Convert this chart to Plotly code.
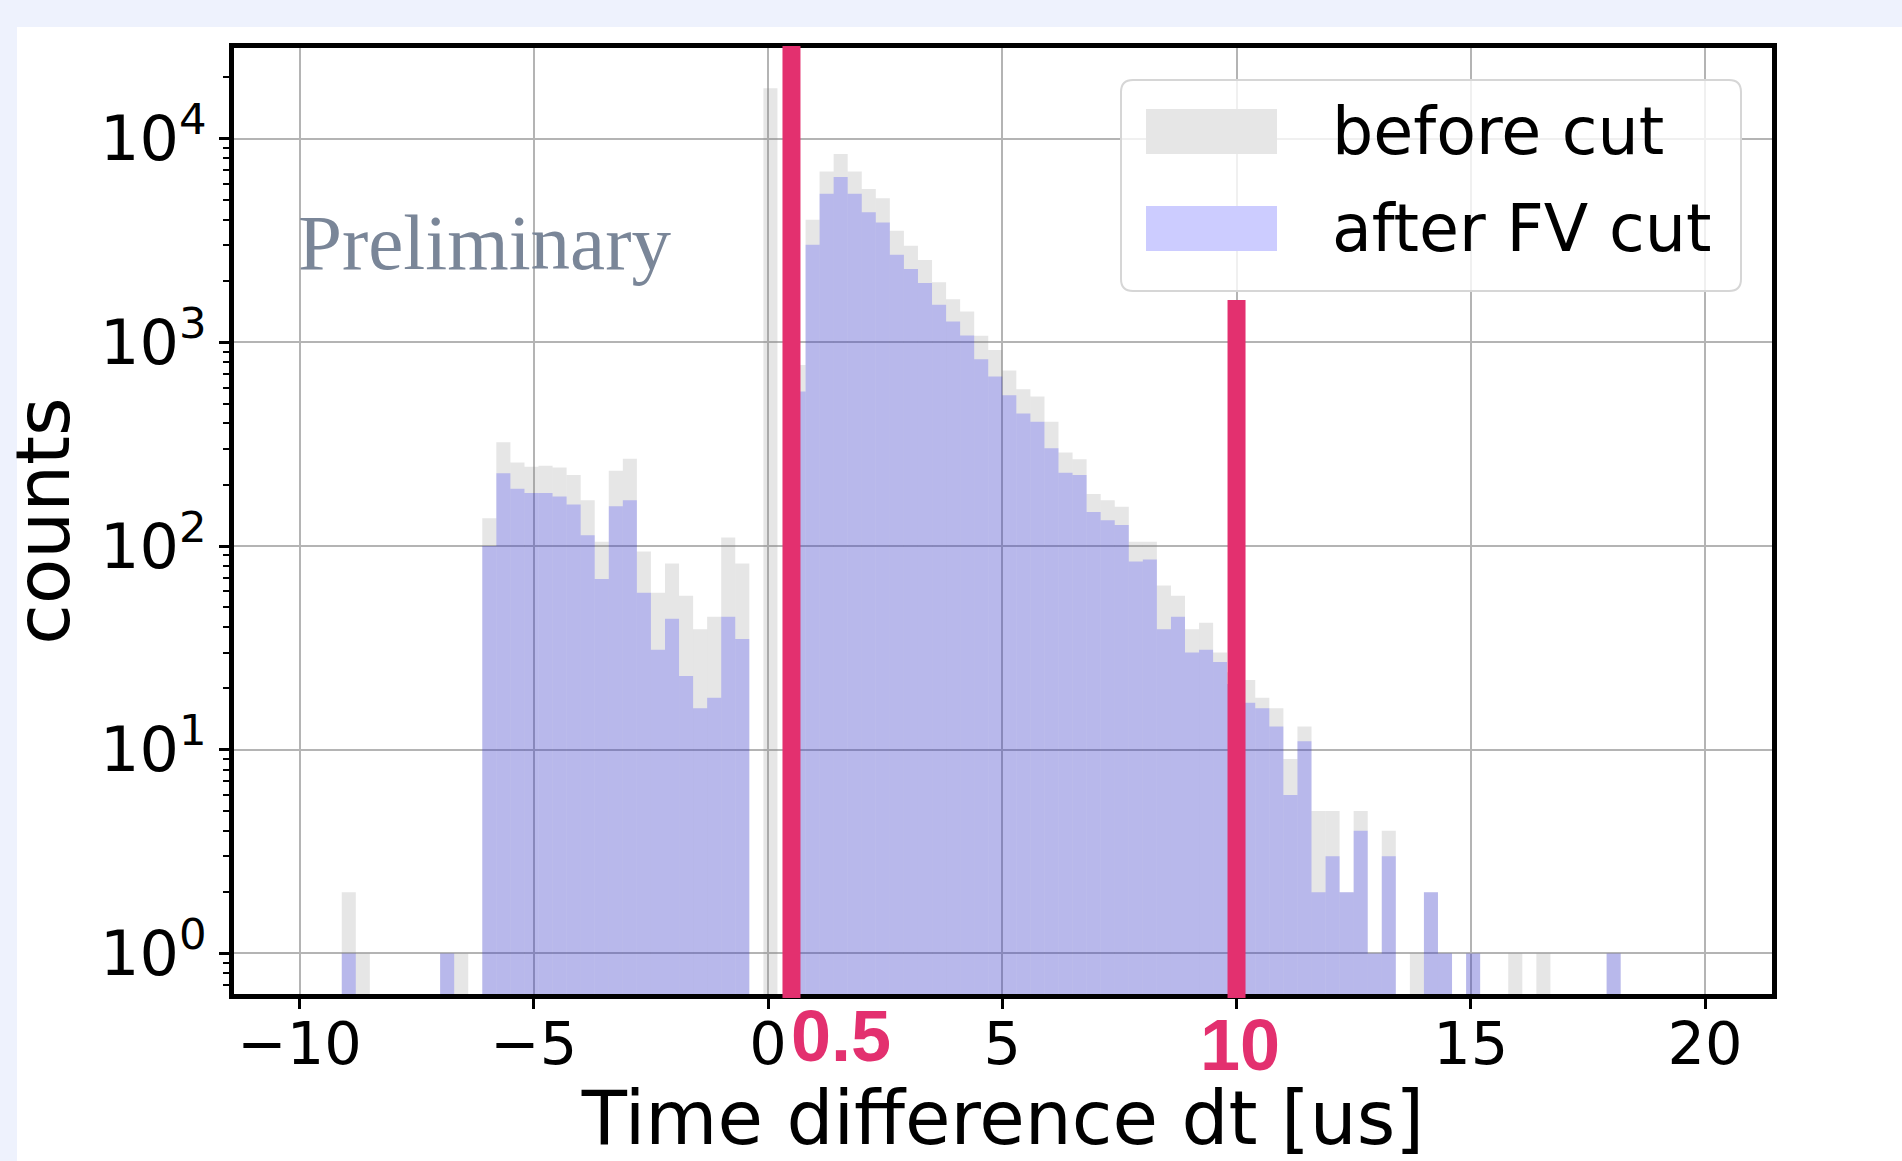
import numpy as np
import plotly.graph_objects as go

# ---------------- data ----------------
bin_edges = np.linspace(-10, 20, 101)          # histogram binning (100 bins of 0.3 us)

counts_before = [
    0, 0, 0, 2, 1, 0, 0, 0, 0, 0,
    1, 1, 0, 137, 323, 257, 245, 248, 243, 223,
    168, 105, 234, 268, 94, 59, 82, 57, 39, 45,
    110, 82, 0, 17700, 0, 775, 4000, 6900, 8400, 6900,
    5660, 5100, 3530, 2980, 2540, 1970, 1630, 1416, 1077, 918,
    727, 589, 542, 408, 288, 267, 180, 168, 156, 105,
    105, 64, 57, 39, 42, 30, 24, 22, 18, 16,
    9, 13, 5, 5, 2, 5, 1, 4, 0, 1,
    2, 1, 0, 1, 0, 0, 1, 0, 1, 0,
    0, 0, 0, 1, 0, 0, 0, 0, 0, 0,
]

counts_after = [
    0, 0, 0, 1, 0, 0, 0, 0, 0, 0,
    1, 0, 0, 100, 228, 191, 182, 182, 175, 160,
    113, 69, 157, 168, 59, 31, 44, 23, 16, 18,
    45, 35, 0, 0, 0, 573, 3013, 5360, 6480, 5360,
    4350, 3880, 2690, 2290, 1954, 1528, 1265, 1081, 826, 679,
    550, 447, 408, 302, 229, 223, 147, 134, 127, 84,
    86, 39, 45, 30, 31, 27, 21, 17, 16, 13,
    6, 11, 2, 3, 2, 4, 1, 3, 0, 0,
    2, 1, 0, 1, 0, 0, 0, 0, 0, 0,
    0, 0, 0, 1, 0, 0, 0, 0, 0, 0,
]

series_names = ["before cut", "after FV cut"]
cut_positions = [0.5, 10]
cut_labels = ["0.5", "10"]
x_tick_values = [-10, -5, 0, 5, 10, 15, 20]
x_tick_text = ["\u221210", "\u22125", "0", "5", "", "15", "20"]   # 10 is written in pink below
y_tick_values = [1, 10, 100, 1000, 10000]
y_tick_text = ["10<sup>0</sup>", "10<sup>1</sup>", "10<sup>2</sup>", "10<sup>3</sup>", "10<sup>4</sup>"]

# ---------------- styles ----------------
GRAY = "rgba(128,128,128,0.2)"
BLUE = "rgba(0,0,255,0.2)"
PINK = "#E3306F"
FONT = "DejaVu Sans"

W, H = 1902, 1161
L, R, T, B = 234, 130, 48, 167
PW, PH = W - L - R, H - T - B


def px_x(px):
    return (px - L) / PW


def px_y(py):
    return (H - B - py) / PH


centers = (bin_edges[:-1] + bin_edges[1:]) / 2
width = bin_edges[1] - bin_edges[0]

fig = go.Figure()
for name, counts, color in [(series_names[0], counts_before, GRAY),
                            (series_names[1], counts_after, BLUE)]:
    fig.add_trace(go.Bar(
        x=centers,
        y=[c if c > 0 else None for c in counts],
        width=width,
        name=name,
        marker=dict(color=color, line=dict(width=0)),
        showlegend=False,
    ))

minor_vals = [m * 10 ** d for d in range(-1, 5) for m in range(2, 10)]

fig.update_layout(
    width=W, height=H,
    margin=dict(l=L, r=R, t=T, b=B, autoexpand=False),
    paper_bgcolor="#EEF2FD",
    plot_bgcolor="white",
    barmode="overlay",
    xaxis=dict(
        range=[-11.40, 21.43],
        tickmode="array", tickvals=x_tick_values, ticktext=x_tick_text,
        ticks="outside", ticklen=10, tickwidth=3, tickcolor="black",
        ticklabelstandoff=-16,
        showline=True, mirror=True, linecolor="black", linewidth=5,
        showgrid=True, gridcolor="#B4B4B4", gridwidth=2, zeroline=False,
        tickfont=dict(family=FONT, size=59, color="black"),
        title=dict(text="Time difference dt [us]",
                   font=dict(family=FONT, size=74, color="black")),
    ),
    yaxis=dict(
        type="log",
        range=[-0.199, 4.445],
        tickmode="array", tickvals=y_tick_values, ticktext=y_tick_text,
        ticks="outside", ticklen=10, tickwidth=3, tickcolor="black",
        showline=True, mirror=True, linecolor="black", linewidth=5,
        showgrid=True, gridcolor="#B4B4B4", gridwidth=2, zeroline=False,
        tickfont=dict(family=FONT, size=62, color="black"),
        minor=dict(tickmode="array", tickvals=minor_vals, ticks="outside",
                   ticklen=6, tickwidth=2, tickcolor="black", showgrid=False),
        title=dict(text="counts",
                   font=dict(family=FONT, size=74, color="black")),
    ),
)

shapes = []
# white slide panel behind the chart
shapes.append(dict(type="rect", xref="paper", yref="paper", layer="below",
                   x0=px_x(17), x1=px_x(W + 20), y0=px_y(H + 20), y1=px_y(27),
                   fillcolor="white", line=dict(width=0)))

# hand-drawn cut lines
cut_tops = [px_y(46), px_y(300)]
for xc, top in zip(cut_positions, cut_tops):
    shapes.append(dict(type="line", xref="x", yref="paper", layer="above",
                       x0=xc, x1=xc, y0=px_y(998), y1=top,
                       line=dict(color=PINK, width=18)))

# legend box (rounded)
bx0, bx1, by0, by1 = px_x(1121), px_x(1741), px_y(291), px_y(80)
rx, ry = 12 / PW, 12 / PH
path = (f"M {bx0 + rx},{by1} L {bx1 - rx},{by1} Q {bx1},{by1} {bx1},{by1 - ry} "
        f"L {bx1},{by0 + ry} Q {bx1},{by0} {bx1 - rx},{by0} "
        f"L {bx0 + rx},{by0} Q {bx0},{by0} {bx0},{by0 + ry} "
        f"L {bx0},{by1 - ry} Q {bx0},{by1} {bx0 + rx},{by1} Z")
shapes.append(dict(type="path", xref="paper", yref="paper", layer="above", path=path,
                   fillcolor="rgba(255,255,255,0.8)", line=dict(color="#D6D6D6", width=2)))
shapes.append(dict(type="rect", xref="paper", yref="paper", layer="above",
                   x0=px_x(1146), x1=px_x(1277), y0=px_y(154), y1=px_y(109),
                   fillcolor="#E6E6E6", line=dict(width=0)))
shapes.append(dict(type="rect", xref="paper", yref="paper", layer="above",
                   x0=px_x(1146), x1=px_x(1277), y0=px_y(251), y1=px_y(206),
                   fillcolor="#CCCCFF", line=dict(width=0)))
fig.update_layout(shapes=shapes)

annotations = []
annotations.append(dict(text=series_names[0], xref="paper", yref="paper",
                        x=px_x(1330), y=px_y(131), xanchor="left", yanchor="middle",
                        showarrow=False, font=dict(family=FONT, size=65, color="black")))
annotations.append(dict(text=series_names[1], xref="paper", yref="paper",
                        x=px_x(1330), y=px_y(228), xanchor="left", yanchor="middle",
                        showarrow=False, font=dict(family=FONT, size=65, color="black")))
annotations.append(dict(text="Preliminary", xref="paper", yref="paper",
                        x=px_x(296), y=px_y(242), xanchor="left", yanchor="middle",
                        showarrow=False,
                        font=dict(family="Liberation Serif", size=79, color="#7A8698")))
label_shifts = [50, 3]
label_y = [1036, 1045]
for xc, txt, sh, ly in zip(cut_positions, cut_labels, label_shifts, label_y):
    annotations.append(dict(text=f"<b>{txt}</b>", xref="x", yref="paper",
                            x=xc, xshift=sh, y=px_y(ly), xanchor="center", yanchor="middle",
                            showarrow=False,
                            font=dict(family="Liberation Sans Narrow, Liberation Sans",
                                      size=72, color=PINK)))
fig.update_layout(annotations=annotations)

fig.write_html("out.html")
